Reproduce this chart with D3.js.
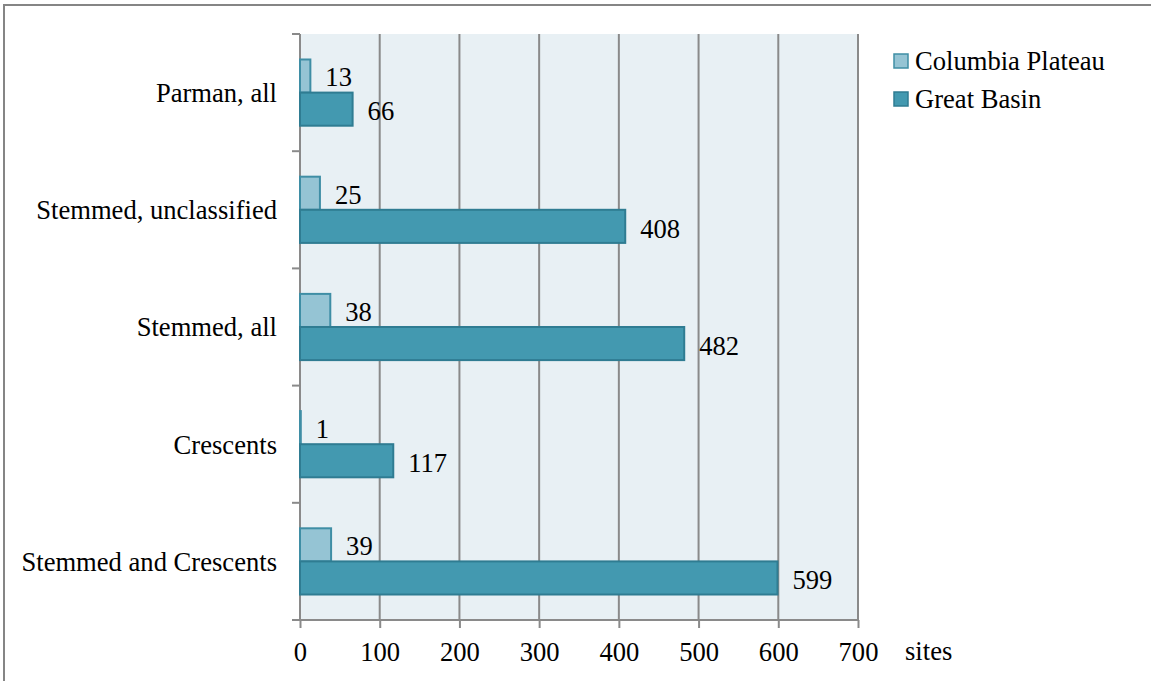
<!DOCTYPE html>
<html>
<head>
<meta charset="utf-8">
<script src="https://cdn.jsdelivr.net/npm/d3@7"></script>
<style>
  html, body { margin: 0; padding: 0; background: #ffffff; }
  svg { display: block; }
  text { font-family: "Liberation Serif", "Times New Roman", serif; fill: #000; }
</style>
</head>
<body>
<svg id="chart" width="1151" height="681" font-family="Liberation Serif, Times New Roman, serif"></svg>
<script>
// Site counts by point type, listed top to bottom
const categories = ["Parman, all", "Stemmed, unclassified", "Stemmed, all", "Crescents", "Stemmed and Crescents"];
const seriesNames = ["Columbia Plateau", "Great Basin"];
const columbiaPlateau = [13, 25, 38, 1, 39];
const greatBasin = [66, 408, 482, 117, 599];
const xTicks = [0, 100, 200, 300, 400, 500, 600, 700];
const xAxisTitle = "sites";

const fills = ["#95c4d4", "#4399b0"];
const strokes = ["#3f8ea5", "#2f7c92"];
const FONT = "Liberation Serif, Times New Roman, serif";
const FS = "26.6px";

const svg = d3.select("#chart");
const W = 1151, H = 681;
const plot = { left: 300, right: 858, top: 34, bottom: 620 };

// outer frame (runs off the right and bottom edges)
svg.append("rect")
  .attr("x", 4).attr("y", 5)
  .attr("width", W + 20).attr("height", H + 20)
  .attr("fill", "none").attr("stroke", "#858585").attr("stroke-width", 2);

const x = d3.scaleLinear().domain([0, 700]).range([plot.left, plot.right]);
const y = d3.scaleBand().domain(categories).range([plot.top, plot.bottom]).padding(0);

const groupFrac = 0.565;
const groupH = y.bandwidth() * groupFrac;
const inner = d3.scaleBand().domain(seriesNames)
  .range([(y.bandwidth() - groupH) / 2, (y.bandwidth() + groupH) / 2]).padding(0);

// plot background
svg.append("rect")
  .attr("x", plot.left).attr("y", plot.top)
  .attr("width", plot.right - plot.left).attr("height", plot.bottom - plot.top)
  .attr("fill", "#e8f0f4");

// vertical gridlines
svg.append("g").selectAll("line")
  .data(xTicks.filter(d => d > 0))
  .join("line")
  .attr("x1", d => x(d)).attr("x2", d => x(d))
  .attr("y1", plot.top).attr("y2", plot.bottom)
  .attr("stroke", "#8a8a8a").attr("stroke-width", 2);

// bottom axis
const xAxis = svg.append("g")
  .attr("transform", `translate(0,${plot.bottom})`)
  .call(d3.axisBottom(x).tickValues(xTicks).tickSize(8).tickPadding(14).tickSizeOuter(0))
  .attr("font-family", FONT)
  .attr("font-size", FS);
xAxis.select(".domain").remove();
xAxis.selectAll(".tick line").attr("stroke", "#8a8a8a").attr("stroke-width", 2);
xAxis.selectAll(".tick text").attr("fill", "#000");
xAxis.append("line")
  .attr("x1", plot.left - 8).attr("x2", plot.right)
  .attr("y1", 0).attr("y2", 0)
  .attr("stroke", "#8a8a8a").attr("stroke-width", 2);

// left axis with ticks at category boundaries
const gy = svg.append("g");
gy.append("line")
  .attr("x1", plot.left).attr("x2", plot.left)
  .attr("y1", plot.top).attr("y2", plot.bottom)
  .attr("stroke", "#8a8a8a").attr("stroke-width", 2);
const bounds = categories.map(c => y(c)).concat([plot.bottom]);
gy.selectAll("line.tk").data(bounds).join("line").attr("class", "tk")
  .attr("x1", plot.left - 8).attr("x2", plot.left)
  .attr("y1", d => d).attr("y2", d => d)
  .attr("stroke", "#8a8a8a").attr("stroke-width", 2);
gy.selectAll("text").data(categories).join("text")
  .attr("x", 277)
  .attr("y", d => y(d) + y.bandwidth() / 2)
  .attr("dy", "0.35em")
  .attr("text-anchor", "end")
  .style("font-size", FS)
  .text(d => d);

// bars
const rows = categories.map((c, i) => ({ cat: c, vals: [columbiaPlateau[i], greatBasin[i]] }));
const groups = svg.append("g").selectAll("g")
  .data(rows).join("g")
  .attr("transform", d => `translate(0,${y(d.cat)})`);

groups.selectAll("rect")
  .data(d => d.vals.map((v, k) => ({ v, k })))
  .join("rect")
  .attr("x", x(0))
  .attr("y", d => inner(seriesNames[d.k]))
  .attr("width", d => x(d.v) - x(0))
  .attr("height", inner.bandwidth())
  .attr("fill", d => fills[d.k])
  .attr("stroke", d => strokes[d.k])
  .attr("stroke-width", 2);

groups.selectAll("text")
  .data(d => d.vals.map((v, k) => ({ v, k })))
  .join("text")
  .attr("x", d => x(d.v) + 15)
  .attr("y", d => inner(seriesNames[d.k]) + inner.bandwidth() / 2 + (d.k === 0 ? 1 : 2))
  .attr("dy", "0.35em")
  .style("font-size", FS)
  .text(d => d.v);

// axis title
svg.append("text")
  .attr("x", 905).attr("y", 660)
  .style("font-size", FS)
  .text(xAxisTitle);

// legend
const legend = svg.append("g").selectAll("g")
  .data(seriesNames).join("g")
  .attr("transform", (d, i) => `translate(894,${54 + i * 38})`);
legend.append("rect")
  .attr("width", 14).attr("height", 14)
  .attr("fill", (d, i) => fills[i])
  .attr("stroke", (d, i) => strokes[i])
  .attr("stroke-width", 1.5);
legend.append("text")
  .attr("x", 21).attr("y", 7)
  .attr("dy", "0.35em")
  .style("font-size", FS)
  .text(d => d);
</script>
</body>
</html>
